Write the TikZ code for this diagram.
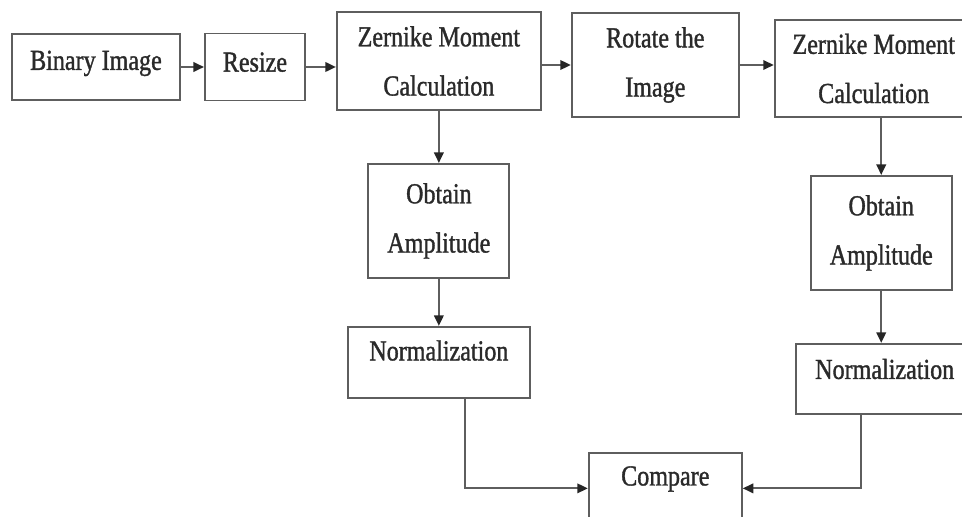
\documentclass[tikz,border=0pt]{standalone}
\usepackage{fontspec}
\setmainfont{Liberation Serif}[FakeStretch=0.83, FakeBold=1.2]
\usepackage{tikz}
\usetikzlibrary{arrows.meta, positioning}
\definecolor{linegray}{HTML}{5E5E5E}
\definecolor{textgray}{HTML}{2A2A2A}
\tikzstyle{process} = [rectangle, draw=linegray, line width=1.1pt, fill=white, text=textgray, align=center, inner sep=0pt]
\tikzstyle{arrow} = [draw=linegray, line width=1.1pt, ->, >={Triangle[length=2.1mm, width=1.9mm, fill=black!85, color=black!85]}]
\tikzset{
  font={\fontsize{16.5pt}{28pt}\selectfont}}

\begin{document}
\begin{tikzpicture}
    \useasboundingbox (0,0) rectangle (19.24,-10.34);
    \clip (0,0) rectangle (19.24,-10.34);

    \node (binimage) [process, minimum width=3.36cm, minimum height=1.32cm, text depth=0.27cm] at (1.92,-1.34) {Binary Image};
    \node (resize) [process, right=0.46cm of binimage, minimum width=2cm, minimum height=1.34cm, text depth=0.2cm] {Resize};
    \node (zernike1) [process, right=0.6cm of resize, yshift=0.12cm, minimum width=4.08cm, minimum height=1.96cm] {Zernike Moment\\Calculation};
    \node (rotate) [process, right=0.58cm of zernike1, yshift=-0.08cm, minimum width=3.34cm, minimum height=2.08cm] {Rotate the\\Image};
    \node (zernike2) [process, right=0.68cm of rotate, yshift=-0.07cm, minimum width=3.96cm, minimum height=1.94cm] {Zernike Moment\\Calculation};

    \node (amplitude1) [process, below=1.04cm of zernike1, minimum width=2.82cm, minimum height=2.28cm] {Obtain\\Amplitude};
    \node (normalize1) [process, below=0.94cm of amplitude1, minimum width=3.64cm, minimum height=1.42cm, text depth=0.48cm] {Normalization};

    \node (amplitude2) [process, below=1.14cm of zernike2, xshift=0.15cm, minimum width=2.82cm, minimum height=2.28cm] {Obtain\\Amplitude};
    \node (normalize2) [process, below=1.04cm of amplitude2, xshift=0.07cm, minimum width=3.56cm, minimum height=1.4cm, text depth=0.4cm] {Normalization};

    \node (compare) [process, right=1.14cm of normalize1, yshift=-2.52cm, minimum width=3.06cm, minimum height=1.42cm, text depth=0.5cm] {Compare};

    \coordinate (out1) at ([xshift=0.52cm]normalize1.south);
    \coordinate (out2) at ([xshift=-0.48cm]normalize2.south);

    \draw [arrow] (binimage) -- (resize);
    \draw [arrow] (resize) -- (resize -| zernike1.west);
    \draw [arrow] (zernike1.east |- rotate) -- (rotate);
    \draw [arrow] (rotate) -- (rotate -| zernike2.west);
    \draw [arrow] (zernike1) -- (amplitude1);
    \draw [arrow] (amplitude1) -- (normalize1);
    \draw [arrow] (zernike2.south -| amplitude2) -- (amplitude2);
    \draw [arrow] (amplitude2) -- (amplitude2 |- normalize2.north);
    \draw [arrow] (out1) |- (compare);
    \draw [arrow] (out2) |- (compare);
\end{tikzpicture}
\end{document}
